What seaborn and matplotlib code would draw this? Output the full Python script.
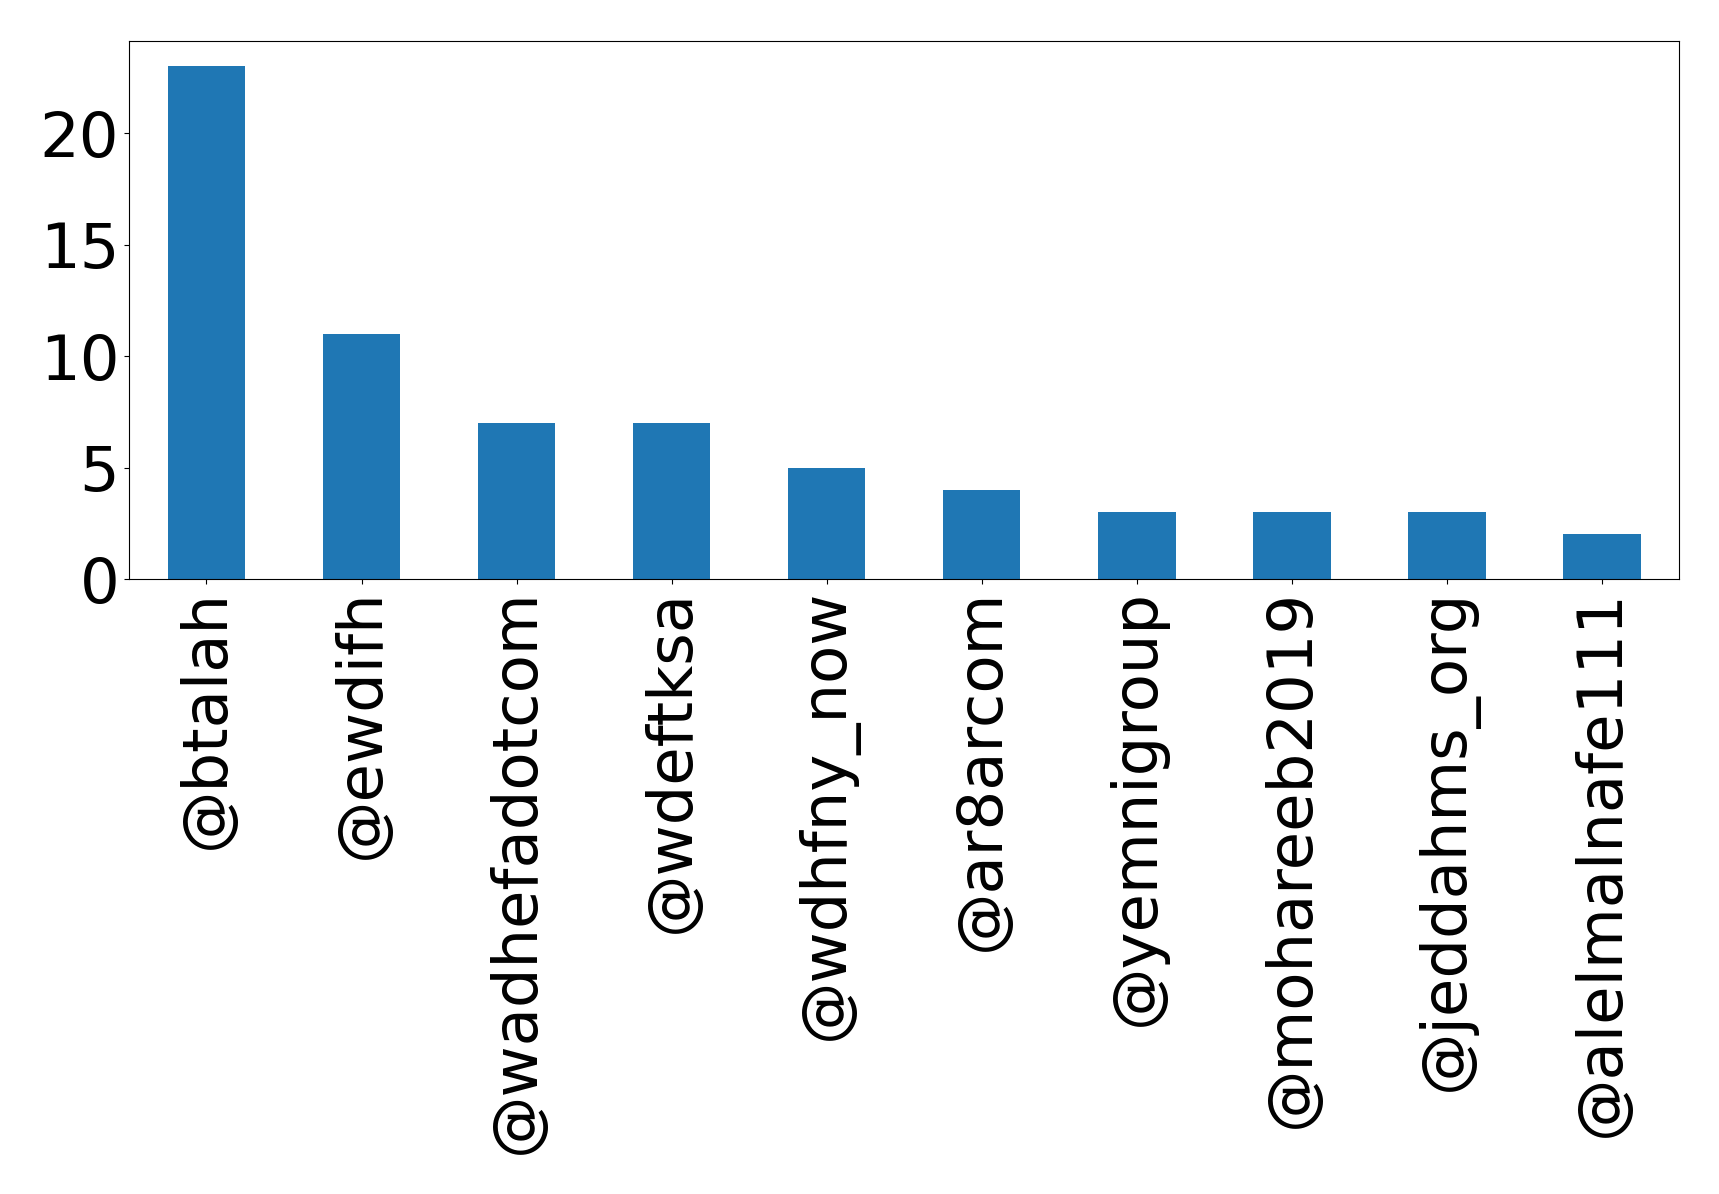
import matplotlib
matplotlib.use("Agg")
import matplotlib.pyplot as plt
from matplotlib.ticker import MultipleLocator
import seaborn as sns
import pandas as pd

# top accounts and how many times they show up
accounts = [
    "@btalah", "@ewdifh", "@wadhefadotcom", "@wdeftksa", "@wdhfny_now",
    "@ar8arcom", "@yemnigroup", "@mohareeb2019", "@jeddahms_org", "@alelmalnafe111"
]
counts = [23, 11, 7, 7, 5, 4, 3, 3, 3, 2]

df = pd.DataFrame({"account": accounts, "count": counts})

fig = plt.figure(figsize=(17.19, 11.94), dpi=100)
ax = fig.add_axes([0.075, 0.515, 0.902, 0.451])

sns.barplot(data=df, x="account", y="count", color="#1f77b4",
            saturation=1, width=0.5, ax=ax)

ax.set_xlim(-0.5, len(accounts) - 0.5)
ax.yaxis.set_major_locator(MultipleLocator(5))
ax.set_xlabel("")
ax.set_ylabel("")
ax.tick_params(axis="both", labelsize=45)
plt.setp(ax.get_xticklabels(), rotation=90)

fig.savefig("out.png", dpi=100)
